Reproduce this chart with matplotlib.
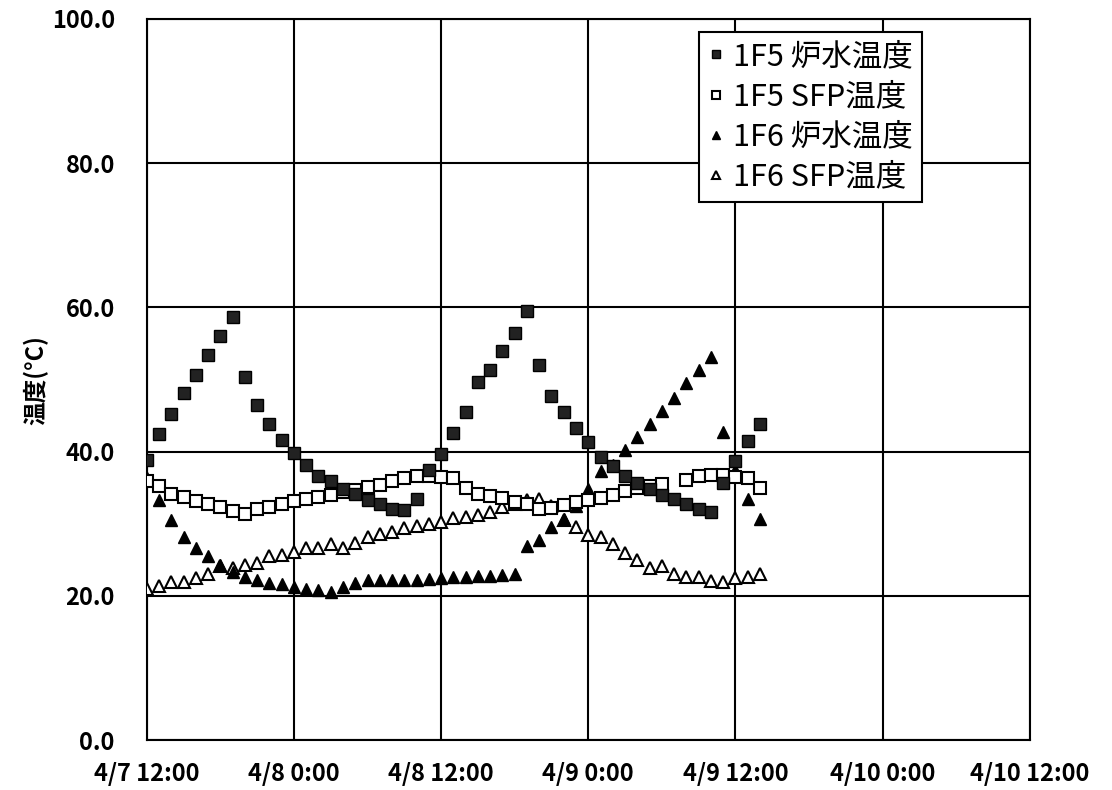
import numpy as np
import matplotlib
matplotlib.use('Agg')
import matplotlib.pyplot as plt

plt.rcParams['font.family'] = ['Noto Sans CJK JP', 'DejaVu Sans']

# hours since 4/7 12:00
hours = list(range(51))

r5 = [38.9, 42.4, 45.2, 48.1, 50.7, 53.4, 56.0, 58.7, 50.3, 46.5,
      43.9, 41.6, 39.8, 38.2, 36.7, 35.9, 34.9, 34.2, 33.3, 32.8,
      32.1, 31.9, 33.5, 37.5, 39.7, 42.6, 45.5, 49.7, 51.3, 54.0,
      56.5, 59.5, 52.0, 47.7, 45.5, 43.3, 41.4, 39.2, 38.0, 36.7,
      35.7, 34.9, 34.0, 33.4, 32.8, 32.0, 31.6, 35.6, 38.7, 41.5, 43.8]
s5 = [36.0, 35.3, 34.2, 33.7, 33.2, 32.8, 32.4, 31.8, 31.4, 32.0,
      32.3, 32.7, 33.1, 33.4, 33.7, 34.0, 34.4, 34.7, 35.1, 35.4,
      36.0, 36.4, 36.6, 36.6, 36.5, 36.3, 35.0, 34.2, 33.9, 33.6,
      33.0, 32.7, 32.1, 32.2, 32.6, 33.0, 33.3, 33.6, 34.0, 34.6,
      35.0, 35.2, 35.5, np.nan, 36.1, 36.6, 36.8, 36.8, 36.5, 36.3, 35.0]
r6 = [36.4, 33.3, 30.5, 28.2, 26.6, 25.5, 24.3, 23.3, 22.7, 22.2,
      21.8, 21.6, 21.3, 20.9, 20.8, 20.6, 21.2, 21.8, 22.2, 22.2,
      22.2, 22.2, 22.2, 22.3, 22.5, 22.6, 22.7, 22.8, 22.8, 22.9,
      23.0, 26.9, 27.7, 29.6, 30.7, 32.5, 34.9, 37.3, 38.2, 40.3,
      42.1, 43.9, 45.7, 47.5, 49.5, 51.3, 53.1, 42.7, 37.5, 33.5, 30.7]
s6 = [20.9, 21.4, 21.9, 21.9, 22.5, 23.1, 24.2, 23.9, 24.3, 24.6,
      25.5, 25.7, 26.1, 26.6, 26.7, 27.2, 26.6, 27.4, 28.2, 28.6,
      28.9, 29.4, 29.7, 30.0, 30.2, 30.8, 31.0, 31.2, 31.7, 32.4,
      32.8, 33.3, 33.4, 32.5, 30.5, 29.6, 28.5, 28.2, 27.2, 25.9,
      25.0, 23.9, 24.1, 23.0, 22.7, 22.7, 22.1, 22.0, 22.5, 22.7, 23.1]

xticks = [0, 12, 24, 36, 48, 60, 72]
xlabels = ['4/7 12:00', '4/8 0:00', '4/8 12:00', '4/9 0:00',
           '4/9 12:00', '4/10 0:00', '4/10 12:00']
yticks = [0, 20, 40, 60, 80, 100]
names = ['1F5 炉水温度', '1F5 SFP温度', '1F6 炉水温度', '1F6 SFP温度']

fig = plt.figure(figsize=(11.12, 7.9), dpi=100)
ax = fig.add_axes([0.132, 0.063, 0.794, 0.913])

ms = 9
ax.plot(hours, s6, ls='none', marker='^', ms=ms, mfc='white', mec='black', mew=1.5, label=names[3], zorder=3)
ax.plot(hours, r6, ls='none', marker='^', ms=ms, mfc='black', mec='black', label=names[2], zorder=4)
ax.plot(hours, s5, ls='none', marker='s', ms=ms, mfc='white', mec='black', mew=1.5, label=names[1], zorder=5)
ax.plot(hours, r5, ls='none', marker='s', ms=ms, mfc='#222222', mec='black', label=names[0], zorder=6)

ax.set_xlim(0, 72)
ax.set_ylim(0, 100)
ax.set_xticks(xticks)
ax.set_xticklabels(xlabels)
ax.set_yticks(yticks)
ax.set_yticklabels(['%.1f' % v for v in yticks])
ax.tick_params(length=0, labelsize=17)
ax.tick_params(axis='x', pad=16)
ax.tick_params(axis='y', pad=23)
for lab in ax.get_xticklabels() + ax.get_yticklabels():
    lab.set_fontweight('bold')
ax.grid(True, color='black', lw=1.5)
ax.set_axisbelow(True)
for s in ax.spines.values():
    s.set_linewidth(1.5)
ax.set_ylabel('温度(°C)', fontsize=17, fontweight='bold', labelpad=2)

h, l = ax.get_legend_handles_labels()
order = [3, 2, 1, 0]
leg = ax.legend([h[i] for i in order], [l[i] for i in order], loc='upper left',
                bbox_to_anchor=(0.626, 0.982), borderaxespad=0,
                fancybox=False, framealpha=1,
                edgecolor='black', fontsize=22, markerscale=0.6,
                handlelength=0.5, handletextpad=0.3, borderpad=0.3,
                labelspacing=0.3)
leg.get_frame().set_linewidth(1.5)

fig.savefig('out.png', dpi=100)
